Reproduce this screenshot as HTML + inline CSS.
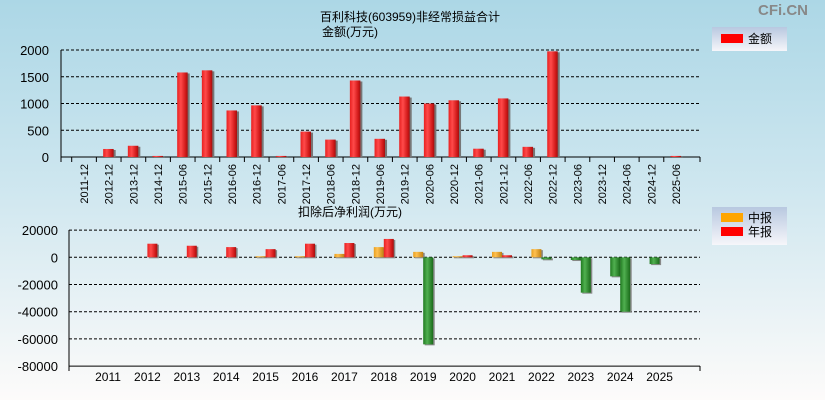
<!DOCTYPE html>
<html><head><meta charset="utf-8"><style>
body{margin:0;width:825px;height:400px;overflow:hidden;font-family:"Liberation Sans","Noto Sans CJK SC",sans-serif}
svg text{font-family:"Liberation Sans","Noto Sans CJK SC",sans-serif}
</style></head><body>
<svg id="c" width="825" height="400" xmlns="http://www.w3.org/2000/svg">
<defs>
<linearGradient id="bg" x1="0" y1="0" x2="0" y2="1">
<stop offset="0" stop-color="#acd7e6"/><stop offset="0.45" stop-color="#cde6ef"/><stop offset="1" stop-color="#fdfbfa"/></linearGradient>
<linearGradient id="red" x1="0" y1="0" x2="1" y2="0">
<stop offset="0" stop-color="#e82020"/><stop offset="0.35" stop-color="#ff4a4a"/><stop offset="0.8" stop-color="#d01818"/><stop offset="1" stop-color="#a01010"/></linearGradient>
<linearGradient id="org" x1="0" y1="0" x2="1" y2="0">
<stop offset="0" stop-color="#e8a020"/><stop offset="0.35" stop-color="#ffc050"/><stop offset="1" stop-color="#c08010"/></linearGradient>
<linearGradient id="grn" x1="0" y1="0" x2="1" y2="0">
<stop offset="0" stop-color="#207a20"/><stop offset="0.4" stop-color="#50b050"/><stop offset="1" stop-color="#1a6a1a"/></linearGradient>
<linearGradient id="leg" x1="0" y1="0" x2="0" y2="1">
<stop offset="0" stop-color="#b8c8e0"/><stop offset="1" stop-color="#f6f6fa"/></linearGradient>
</defs>
<rect width="825" height="400" fill="url(#bg)"/>
<text x="808" y="15" font-size="15" fill="#888" text-anchor="end" font-weight="bold">CFi.CN</text>
<text x="410" y="21" font-size="12" text-anchor="middle">百利科技(603959)非经常损益合计</text>
<text x="350" y="36" font-size="12" text-anchor="middle">金额(万元)</text>
<text x="350" y="216" font-size="12" text-anchor="middle">扣除后净利润(万元)</text>
<g>
<rect x="712" y="27" width="75" height="24" fill="url(#leg)"/>
<rect x="721" y="34" width="22" height="9" fill="#f00"/>
<text x="748" y="43" font-size="12">金额</text>
</g>
<g>
<rect x="712" y="207" width="75" height="38" fill="url(#leg)"/>
<rect x="721" y="213" width="22" height="9" fill="#ffa500"/>
<text x="748" y="222" font-size="12">中报</text>
<rect x="721" y="227" width="22" height="9" fill="#f00"/>
<text x="748" y="236" font-size="12">年报</text>
</g>
<g id="top"></g><g id="bot"></g>
</svg>
<script>
const topCats=["2011-12","2012-12","2013-12","2014-12","2015-06","2015-12","2016-06","2016-12","2017-06","2017-12","2018-06","2018-12","2019-06","2019-12","2020-06","2020-12","2021-06","2021-12","2022-06","2022-12","2023-06","2023-12","2024-06","2024-12","2025-06"];
const topVals=[0,150,210,20,1580,1620,870,965,20,475,325,1430,340,1130,1000,1060,155,1095,190,1975,0,0,0,0,20];
const topTicks=[0,500,1000,1500,2000];
const years=["2011","2012","2013","2014","2015","2016","2017","2018","2019","2020","2021","2022","2023","2024","2025"];
const interimVals=[null,0,0,0,800,800,2500,7500,4000,800,4000,6000,-2000,-14000,-5000];
const annualVals=[null,10000,8500,7500,6000,10000,10500,13500,-64000,1500,1500,-1500,-26000,-40000,null];
const botTicks=[20000,0,-20000,-40000,-60000,-80000];
const NS="http://www.w3.org/2000/svg";
function mk(p,t,a){const e=document.createElementNS(NS,t);for(const k in a)e.setAttribute(k,a[k]);p.appendChild(e);return e;}
// top chart
const T=document.getElementById('top');
const tx=i=>84+i*24.67, ty=v=>157-v*(107/2000);
for(const v of topTicks){
 const l=mk(T,'line',{x1:61,x2:700,y1:ty(v),y2:ty(v),stroke:'#000','stroke-dasharray':v?'3,2':'none'});
 
 
 const t=mk(T,'text',{x:49,y:ty(v)+5,'font-size':13,'text-anchor':'end'});t.textContent=v;
 
 
}
mk(T,'line',{x1:61,x2:61,y1:50,y2:162,stroke:'#000'});
mk(T,'line',{x1:61,x2:700,y1:157,y2:157,stroke:'#000'});
topCats.forEach((c,i)=>{
 const x=tx(i);
 mk(T,'line',{x1:x-12.3,x2:x-12.3,y1:157,y2:162,stroke:'#000'});
 const v=topVals[i];
 if(v>0){
  mk(T,'rect',{x:x-4,y:ty(v)+1,width:11,height:157-ty(v),fill:'#777'});
  const r=mk(T,'rect',{x:x-5.5,y:ty(v),width:10.5,height:157-ty(v),fill:'url(#red)'});
  
  
 }
 const t=mk(T,'text',{'font-size':11,'text-anchor':'end',transform:`translate(${x+4},164) rotate(-90)`});t.textContent=c;
 
 
});
mk(T,'line',{x1:700,x2:700,y1:157,y2:162,stroke:'#000'});
// bottom chart
const B=document.getElementById('bot');
const bx=i=>108+i*39.4, by=v=>257.3-v*(27.2/20000);
for(const v of botTicks){
 const l=mk(B,'line',{x1:69,x2:700,y1:by(v),y2:by(v),stroke:'#000','stroke-dasharray':v===-80000?'none':'3,2'});
 
 
 const t=mk(B,'text',{x:58,y:by(v)+5,'font-size':13,'text-anchor':'end'});t.textContent=v;
 
 
}
mk(B,'line',{x1:69,x2:69,y1:230,y2:371,stroke:'#000'});
mk(B,'line',{x1:700,x2:700,y1:366,y2:371,stroke:'#000'});
function bar(x,v,pos,name){
 if(v===null||v===0)return;
 const y0=by(0),y1=by(v);
 const fill=v<0?'url(#grn)':(pos?'url(#red)':'url(#org)');
 const top=Math.min(y0,y1),h=Math.abs(y1-y0);
 mk(B,'rect',{x:x+1.5,y:top+1,width:10,height:h,fill:'#888'});
 const r=mk(B,'rect',{x:x,y:top,width:10,height:h,fill:fill});
 
 
}
years.forEach((yr,i)=>{
 const x=bx(i);
 bar(x-10,interimVals[i],0,'bar-interim-'+yr);
 bar(x,annualVals[i],1,'bar-annual-'+yr);
 const t=mk(B,'text',{x:x,y:381,'font-size':12,'text-anchor':'middle'});t.textContent=yr;
 
 
});
</script>
</body></html>
